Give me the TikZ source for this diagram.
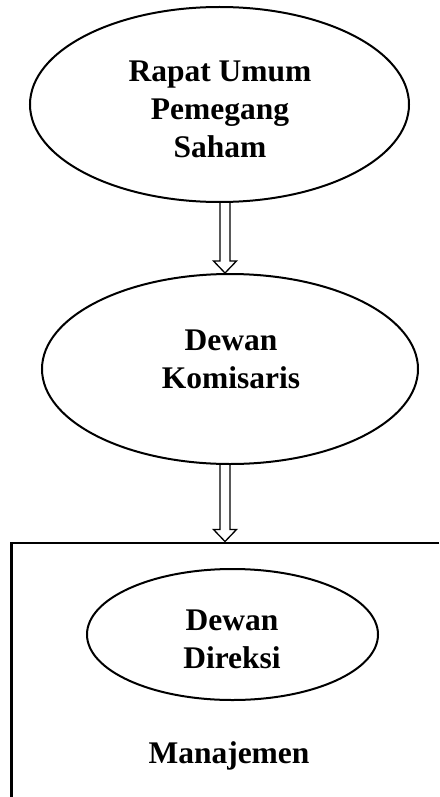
\documentclass[tikz,border=0pt]{standalone}
\usepackage{fontspec}
\setmainfont{Liberation Serif}
\usetikzlibrary{shapes.geometric,calc}

% hollow block arrow from #1 down to #2
\newcommand{\blockarrow}[2]{%
  \draw[arrowline] let \p1=(#1), \p2=(#2) in
    (\x1-5pt,\y1) -- (\x1-5pt,\y2+12pt) -- (\x1-11.5pt,\y2+12pt) -- (\x2,\y2)
    -- (\x1+11.5pt,\y2+12pt) -- (\x1+5pt,\y2+12pt) -- (\x1+5pt,\y1);}

\begin{document}
\begin{tikzpicture}[x=1pt,y=-1pt,
  ell/.style={ellipse,draw,line width=2pt,inner sep=0pt},
  lbl/.style={font=\fontsize{31.5}{38}\selectfont\bfseries,align=center,inner sep=0pt},
  arrowline/.style={line width=1.3pt,line join=miter},
  frame/.style={line width=2.6pt}]
  \useasboundingbox (0,0) rectangle (439,797);

  \node[ell,minimum width=379pt,minimum height=195pt] (rups) at (219.5,104.5) {};
  \node[lbl] (rupstext) at (220,109.5) {Rapat Umum\\Pemegang\\Saham};

  \node[ell,minimum width=376pt,minimum height=190pt] (kom) at (230,369) {};
  \node[lbl] (komtext) at (231,359.5) {Dewan\\Komisaris};

  \node[ell,minimum width=291pt,minimum height=131pt] (dir) at (232.5,634.5) {};
  \node[lbl] (dirtext) at (232,639) {Dewan\\Direksi};

  \node[lbl,anchor=base] (mgmttext) at (229,763) {Manajemen};

  % frame of the management box, open to the right and below
  \draw[frame] (439,543) -- (11.5,543) -- (11.5,797);

  \coordinate (axis) at (225,0);
  \coordinate (mgmt) at (225,541.5);
  \blockarrow{axis |- rups.south}{axis |- kom.north}
  \blockarrow{axis |- kom.south}{mgmt}

  % \node[lbl] (extra) at (220,400) {};
\end{tikzpicture}
\end{document}
